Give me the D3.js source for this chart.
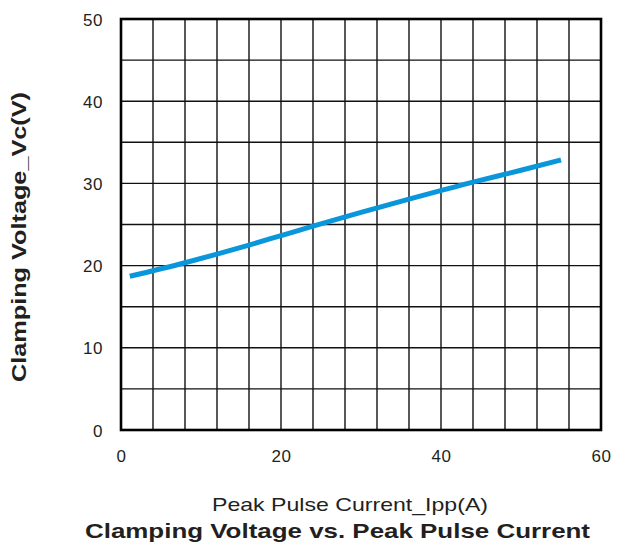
<!DOCTYPE html>
<html>
<head>
<meta charset="utf-8">
<script src="https://cdn.jsdelivr.net/npm/d3@7"></script>
<style>
  html, body { margin: 0; padding: 0; background: #fff; }
  text { font-family: "Liberation Sans", Arial, sans-serif; fill: #231f20; }
</style>
</head>
<body>
<svg id="chart" width="619" height="545"></svg>
<script>
// data
const currentIpp = [1.1, 8, 12, 16, 20, 24, 30, 36, 44, 50, 55];
const voltageVc = [18.7, 20.35, 21.4, 22.5, 23.65, 24.8, 26.47, 28.08, 30.15, 31.6, 32.85];
const xTicks = [0, 20, 40, 60];
const yTicks = [0, 10, 20, 30, 40, 50];
const xGrid = d3.range(0, 61, 4);
const yGrid = d3.range(0, 51, 5);

const margins = { top: 19, right: 18, bottom: 115, left: 121 };
const width = 619;
const height = 545;

const svg = d3.select("#chart");

const x = d3.scaleLinear()
  .domain([0, 60])
  .range([margins.left, width - margins.right]);

const y = d3.scaleLinear()
  .domain([0, 50])
  .range([height - margins.bottom, margins.top]);

//* grid
svg.append("g")
  .selectAll("line")
  .data(xGrid)
  .join("line")
  .attr("x1", d => x(d)).attr("x2", d => x(d))
  .attr("y1", y(0)).attr("y2", y(50))
  .attr("stroke", "#111")
  .attr("stroke-width", 1.4);

svg.append("g")
  .selectAll("line")
  .data(yGrid)
  .join("line")
  .attr("x1", x(0)).attr("x2", x(60))
  .attr("y1", d => y(d)).attr("y2", d => y(d))
  .attr("stroke", "#111")
  .attr("stroke-width", 1.4);

// frame
svg.append("rect")
  .attr("x", x(0)).attr("y", y(50))
  .attr("width", x(60) - x(0))
  .attr("height", y(0) - y(50))
  .attr("fill", "none")
  .attr("stroke", "#000")
  .attr("stroke-width", 2.6);

//* axes (labels only)
const xAxis = svg.append("g")
  .attr("transform", `translate(0, ${y(0)})`)
  .call(d3.axisBottom(x).tickValues(xTicks).tickSize(0).tickPadding(20));

const yAxis = svg.append("g")
  .attr("transform", `translate(${x(0) - 18}, 0)`)
  .call(d3.axisLeft(y).tickValues(yTicks).tickSize(0).tickPadding(0));

[xAxis, yAxis].forEach(a => {
  a.select(".domain").remove();
  a.selectAll("text")
    .attr("font-size", 17)
    .attr("font-family", "Liberation Sans, Arial, sans-serif")
    .attr("fill", "#231f20")
    .attr("letter-spacing", 0.5);
});
yAxis.selectAll("text").attr("dy", "0.36em");

//* the curve
const line = d3.line()
  .x((d, i) => x(currentIpp[i]))
  .y(d => y(d))
  .curve(d3.curveMonotoneX);

svg.append("path")
  .datum(voltageVc)
  .attr("d", line)
  .attr("fill", "none")
  .attr("stroke", "#0a96db")
  .attr("stroke-width", 5);

//* titles
svg.append("text")
  .attr("x", 212)
  .attr("y", 511)
  .attr("font-size", 19)
  .attr("textLength", 276)
  .attr("lengthAdjust", "spacingAndGlyphs")
  .text("Peak Pulse Current_Ipp(A)");

svg.append("text")
  .attr("x", 85)
  .attr("y", 538)
  .attr("font-size", 21)
  .attr("font-weight", "bold")
  .attr("textLength", 505)
  .attr("lengthAdjust", "spacingAndGlyphs")
  .text("Clamping Voltage vs. Peak Pulse Current");

svg.append("text")
  .attr("transform", "translate(26, 382) rotate(-90)")
  .attr("font-size", 20)
  .attr("font-weight", "bold")
  .attr("textLength", 290)
  .attr("lengthAdjust", "spacingAndGlyphs")
  .text("Clamping Voltage_Vc(V)");
</script>
</body>
</html>
